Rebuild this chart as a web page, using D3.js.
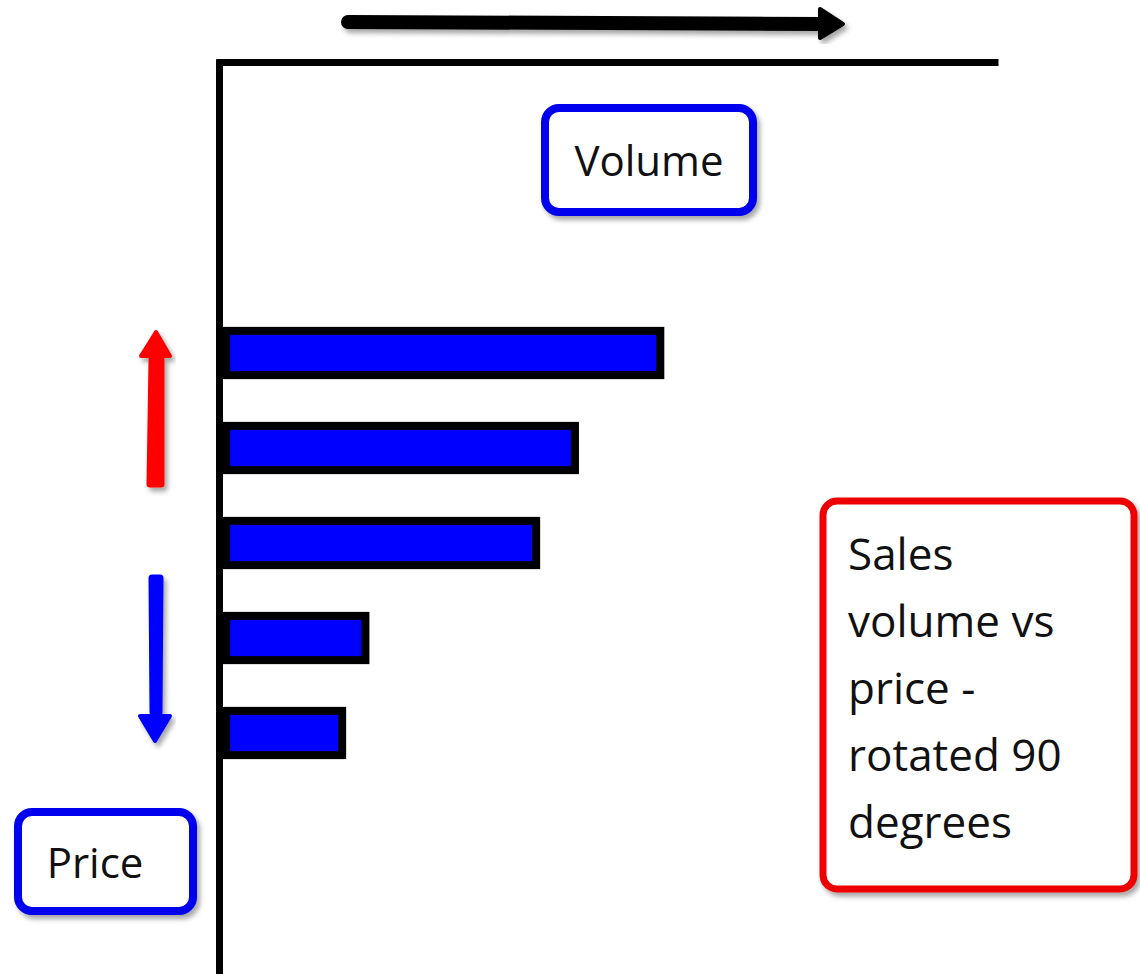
<!DOCTYPE html>
<html>
<head>
<meta charset="utf-8">
<script src="https://cdn.jsdelivr.net/npm/d3@7"></script>
<style>
  html, body { margin: 0; padding: 0; background: #ffffff; }
  svg { display: block; }
  text { font-family: "Comic Sans MS", "Open Sans", "DejaVu Sans", sans-serif; fill: #111; }
</style>
</head>
<body>
<svg id="chart" width="1140" height="974"></svg>
<script>
// ---- data ----
const priceLevels = ["P5", "P4", "P3", "P2", "P1"];   // highest price at top
const volumes = [57, 46, 41, 19, 16];
const xAxisLabel = "Volume";
const yAxisLabel = "Price";
const noteLines = ["Sales", "volume vs", "price -", "rotated 90", "degrees"];

const svg = d3.select("#chart");
const defs = svg.append("defs");
const f = defs.append("filter").attr("id", "shadow").attr("x", "-20%").attr("y", "-20%").attr("width", "140%").attr("height", "140%");
f.append("feDropShadow").attr("dx", 3).attr("dy", 4).attr("stdDeviation", 2.5).attr("flood-color", "#000").attr("flood-opacity", 0.35);

// scales
const x = d3.scaleLinear().domain([0, 100]).range([222, 998]);
const y = d3.scaleBand().domain(priceLevels).range([305.5, 780.5]).paddingInner(0.45).paddingOuter(0.225);
const yLine = d3.scaleLinear().domain([0, 1]).range([59, 974]);

// axes (plain lines, no ticks)
svg.append("g").attr("transform", "translate(0,62)")
  .call(d3.axisTop(d3.scaleLinear().domain([0, 1]).range([216, 998])).tickValues([]).tickSizeOuter(0))
  .select(".domain").attr("stroke", "#000").attr("stroke-width", 7);
svg.append("g").attr("transform", "translate(219,0)")
  .call(d3.axisLeft(yLine).tickValues([]).tickSizeOuter(0))
  .select(".domain").attr("stroke", "#000").attr("stroke-width", 7);

// bars
const sw = 8;
svg.append("g").selectAll("rect").data(volumes).join("rect")
  .attr("x", x(0) + sw / 2)
  .attr("y", (d, i) => y(priceLevels[i]) + sw / 2)
  .attr("width", d => x(d) - x(0) - sw)
  .attr("height", y.bandwidth() - sw)
  .attr("fill", "#0000ff")
  .attr("stroke", "#000")
  .attr("stroke-width", sw);

// top arrow (volume direction)
const topArrow = svg.append("g").attr("filter", "url(#shadow)");
topArrow.append("line").attr("x1", 348).attr("y1", 22).attr("x2", 824).attr("y2", 24)
  .attr("stroke", "#000").attr("stroke-width", 14).attr("stroke-linecap", "round");
topArrow.append("path").attr("d", "M820,9 L843,24 L820,38 Z").attr("fill", "#000")
  .attr("stroke", "#000").attr("stroke-width", 4).attr("stroke-linejoin", "round");

// red up arrow
const red = svg.append("g").attr("filter", "url(#shadow)");
red.append("path").attr("d", "M150,484 L152,360 L161,360 L161,484 Z").attr("fill", "#ff0000")
  .attr("stroke", "#ff0000").attr("stroke-width", 7).attr("stroke-linejoin", "round");
red.append("path").attr("d", "M141,356 L156,332 L170,356 Z").attr("fill", "#ff0000")
  .attr("stroke", "#ff0000").attr("stroke-width", 4).attr("stroke-linejoin", "round");

// blue down arrow
const blue = svg.append("g").attr("filter", "url(#shadow)");
blue.append("path").attr("d", "M152,578 L153,712 L159,712 L160,578 Z").attr("fill", "#0000ff")
  .attr("stroke", "#0000ff").attr("stroke-width", 7).attr("stroke-linejoin", "round");
blue.append("path").attr("d", "M140,716 L155,741 L170,716 Z").attr("fill", "#0000ff")
  .attr("stroke", "#0000ff").attr("stroke-width", 4).attr("stroke-linejoin", "round");

// label boxes
function box(x0, y0, w, h, color, sw) {
  svg.append("rect").attr("x", x0).attr("y", y0).attr("width", w).attr("height", h)
    .attr("rx", 14).attr("ry", 14).attr("fill", "#fff").attr("stroke", color)
    .attr("stroke-width", sw).attr("filter", "url(#shadow)");
}
box(545, 108, 208, 104, "#0000ee", 8);
svg.append("text").attr("x", 649).attr("y", 176).attr("text-anchor", "middle")
  .attr("font-size", 42).text(xAxisLabel);

box(18, 812, 175, 99, "#0000ee", 8);
svg.append("text").attr("x", 95).attr("y", 878).attr("text-anchor", "middle")
  .attr("font-size", 42).text(yAxisLabel);

box(823, 501, 311, 388, "#ee0000", 7);
svg.append("g").selectAll("text").data(noteLines).join("text")
  .attr("x", 848).attr("y", (d, i) => 570 + i * 67)
  .attr("font-size", 44).text(d => d);
</script>
</body>
</html>
